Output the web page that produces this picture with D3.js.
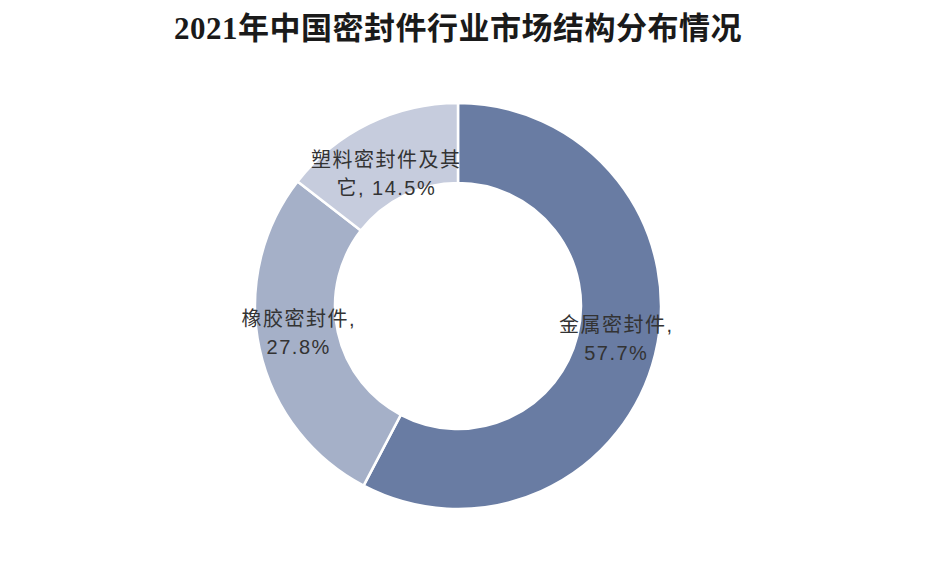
<!DOCTYPE html>
<head>
    <meta charset="utf-8">
    <script src="https://cdn.jsdelivr.net/npm/d3@7/dist/d3.min.js"></script>
    <style>
        body { margin: 0; background: #fff; }
        svg { display: block; }
    </style>
</head>
<body>
    <div id="chart"></div>
    <script>
        // données
        const categories = ["金属密封件", "橡胶密封件", "塑料密封件及其它"];
        const shares = [57.7, 27.8, 14.5];
        const colors = ["#697ca3", "#a5b0c8", "#c6ccdd"];
        // découpage des étiquettes sur deux lignes, comme dans l'original
        const labelLines = [
            ["金属密封件,", "57.7%"],
            ["橡胶密封件,", "27.8%"],
            ["塑料密封件及其", "它, 14.5%"]
        ];
        const titleText = "2021年中国密封件行业市场结构分布情况";

        const width = 928, height = 573;
        const cx = 458, cy = 306;
        const outerR = 203, innerR = 123;
        const labelR = (outerR + innerR) / 2;
        const lineGap = 28;
        // petits décalages verticaux des étiquettes (positionnement Excel)
        const labelShift = [-6, -8, 14];

        const svg = d3.select("#chart").append("svg")
            .attr("width", width)
            .attr("height", height);

        svg.append("text")
            .attr("x", cx)
            .attr("y", 39)
            .attr("text-anchor", "middle")
            .style("font-family", "'Liberation Serif', 'Noto Sans CJK SC', serif")
            .style("font-weight", "bold")
            .style("font-size", "31px")
            .style("letter-spacing", "0.5px")
            .style("fill", "#1a1a1a")
            .text(titleText);

        const data = categories.map((c, i) => ({ name: c, value: shares[i], i: i }));

        const pie = d3.pie()
            .value(d => d.value)
            .sort(null);

        const arc = d3.arc()
            .innerRadius(innerR)
            .outerRadius(outerR);

        const labelArc = d3.arc()
            .innerRadius(labelR)
            .outerRadius(labelR);

        const g = svg.append("g")
            .attr("transform", `translate(${cx},${cy})`);

        const arcs = pie(data);

        g.selectAll("path")
            .data(arcs)
            .join("path")
            .attr("d", arc)
            .attr("fill", d => colors[d.data.i])
            .attr("stroke", "#fff")
            .attr("stroke-width", 2.5);

        const labels = g.selectAll("text.lbl")
            .data(arcs)
            .join("text")
            .attr("class", "lbl")
            .attr("text-anchor", "middle")
            .style("font-family", "'Liberation Sans', Arial, 'Noto Sans CJK SC', sans-serif")
            .style("font-size", "20px")
            .style("letter-spacing", "1.5px")
            .style("fill", "#333");

        labels.each(function (d) {
            const [x, y] = labelArc.centroid(d);
            const lines = labelLines[d.data.i];
            const y0 = y + labelShift[d.data.i] - (lines.length - 1) * lineGap / 2;
            d3.select(this).selectAll("tspan")
                .data(lines)
                .join("tspan")
                .attr("x", x)
                .attr("y", (l, k) => y0 + k * lineGap)
                .attr("dy", "0.35em")
                .text(l => l);
        });
    </script>
</body>
